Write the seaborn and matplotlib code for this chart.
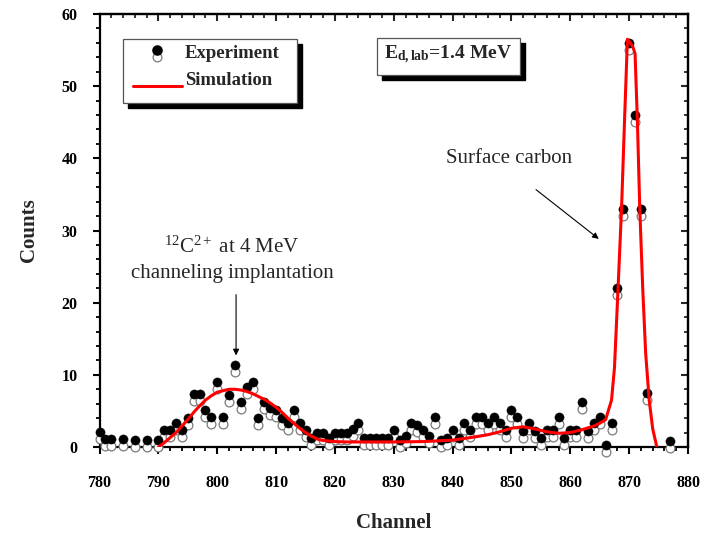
import numpy as np
import pandas as pd
import matplotlib
matplotlib.use('Agg')
import matplotlib.pyplot as plt
import seaborn as sns
from matplotlib.ticker import MultipleLocator
from matplotlib import transforms
from matplotlib.patches import Rectangle
from matplotlib.lines import Line2D

# ---------------- data ----------------
exp_channel = [780, 781, 782, 784, 786, 788, 790, 791, 792, 793, 794, 795, 796, 797,
               798, 799, 800, 801, 802, 803, 804, 805, 806, 807, 808, 809, 810, 811,
               812, 813, 814, 815, 816, 817, 818, 819, 820, 821, 822, 823, 824, 825,
               826, 827, 828, 829, 830, 831, 832, 833, 834, 835, 836, 837, 838, 839,
               840, 841, 842, 843, 844, 845, 846, 847, 848, 849, 850, 851, 852, 853,
               854, 855, 856, 857, 858, 859, 860, 861, 862, 863, 864, 865, 866, 867,
               868, 869, 870, 871, 872, 873, 877]
exp_counts = [2.1, 1.1, 1.1, 1.1, 1.0, 1.0, 1.0, 2.3, 2.3, 3.3, 2.3, 4.0, 7.4, 7.4,
              5.1, 4.2, 9.0, 4.2, 7.2, 11.3, 6.2, 8.3, 9.0, 4.0, 6.2, 5.4, 5.1, 4.0,
              3.3, 5.1, 3.3, 2.3, 1.3, 2.0, 2.0, 1.2, 2.0, 2.0, 2.0, 2.5, 3.3, 1.2,
              1.2, 1.2, 1.2, 1.2, 2.3, 1.0, 1.5, 3.3, 3.0, 2.3, 1.5, 4.2, 1.0, 1.3,
              2.3, 1.2, 3.3, 2.3, 4.2, 4.2, 3.3, 4.2, 3.3, 2.3, 5.1, 4.2, 2.2, 3.3,
              2.2, 1.2, 2.3, 2.3, 4.2, 1.2, 2.3, 2.3, 6.2, 2.2, 3.3, 4.2, 0.3, 3.3,
              22.0, 33.0, 56.0, 46.0, 33.0, 7.5, 0.8]

sim_channel = [790, 791, 792, 793, 794, 795, 796, 797, 798, 799, 800, 801, 802, 803,
               804, 805, 806, 807, 808, 809, 810, 811, 812, 813, 814, 815, 816, 817,
               818, 820, 822, 825, 830, 835, 840, 843, 846, 848, 850, 852, 854, 856,
               858, 860, 862, 864, 865, 866, 867, 867.5, 868, 868.7, 869.2, 869.7,
               870.2, 870.6, 871.0, 871.4, 871.8, 872.3, 872.8, 873.4, 874.0, 874.7]
sim_counts = [0.0, 0.6, 1.3, 2.0, 2.9, 3.8, 4.8, 5.7, 6.5, 7.1, 7.6, 7.8, 8.0, 8.0,
              7.9, 7.7, 7.4, 7.0, 6.6, 6.1, 5.5, 4.8, 4.0, 3.3, 2.6, 2.0, 1.5, 1.1,
              0.9, 0.75, 0.7, 0.7, 0.7, 0.75, 0.95, 1.3, 1.7, 2.1, 2.6, 2.8, 2.5, 2.1,
              1.9, 2.0, 2.4, 2.9, 3.3, 3.8, 6.5, 11.0, 20.0, 33.0, 45.0, 56.5,
              56.0, 55.5, 54.5, 45.0, 33.0, 22.0, 13.0, 6.5, 2.5, 0.0]

x_ticks = [780, 790, 800, 810, 820, 830, 840, 850, 860, 870, 880]
y_ticks = [0, 10, 20, 30, 40, 50, 60]

exp_df = pd.DataFrame({'Channel': exp_channel, 'Counts': exp_counts})
sim_df = pd.DataFrame({'Channel': sim_channel, 'Counts': sim_counts})

# ---------------- style ----------------
sns.set_theme(style='ticks')
plt.rcParams['font.family'] = ['Liberation Serif', 'DejaVu Serif']
plt.rcParams['mathtext.fontset'] = 'custom'
plt.rcParams['mathtext.rm'] = 'Liberation Serif'
plt.rcParams['mathtext.bf'] = 'Liberation Serif:bold'
plt.rcParams['mathtext.it'] = 'Liberation Serif:italic'

fig = plt.figure(figsize=(7.11, 5.37), dpi=100)
ax = fig.add_axes([0.14, 0.1676, 0.8277, 0.8063])

off = transforms.offset_copy(ax.transData, fig=fig, x=0, y=-5, units='points')
sns.scatterplot(data=exp_df, x='Channel', y='Counts', ax=ax, marker='o', s=40,
                color='white', edgecolor='#7a7a7a', linewidth=0.9, transform=off,
                clip_on=False, zorder=3, legend=False)
sns.scatterplot(data=exp_df, x='Channel', y='Counts', ax=ax, marker='o', s=44,
                color='black', edgecolor='black', linewidth=0.3, clip_on=False,
                zorder=4, legend=False)
sns.lineplot(data=sim_df, x='Channel', y='Counts', ax=ax, color='#ff0000', lw=2.2,
             zorder=5, legend=False)

ax.set_xlim(780, 880)
ax.set_ylim(0, 60)
ax.set_xticks(x_ticks)
ax.set_yticks(y_ticks)
ax.xaxis.set_minor_locator(MultipleLocator(2))
ax.yaxis.set_minor_locator(MultipleLocator(2))
ax.tick_params(which='major', direction='out', length=5, width=1.5, labelsize=11.5,
               color='black', labelcolor='black')
ax.tick_params(which='minor', direction='out', length=3, width=1.3, color='black')
ax.tick_params(axis='x', which='major', pad=15)
ax.tick_params(axis='y', which='major', pad=11)
for lab in ax.get_xticklabels() + ax.get_yticklabels():
    lab.set_fontweight('bold')
for sp in ax.spines.values():
    sp.set_visible(True)
    sp.set_linewidth(1.6)
    sp.set_color('black')

top = ax.secondary_xaxis('top')
top.set_xticks(x_ticks)
top.xaxis.set_minor_locator(MultipleLocator(2))
top.tick_params(which='major', direction='in', length=5, width=1.5, labeltop=False)
top.tick_params(which='minor', direction='in', length=3, width=1.3)
top.spines['top'].set_linewidth(1.6)
right = ax.secondary_yaxis('right')
right.set_yticks(y_ticks)
right.yaxis.set_minor_locator(MultipleLocator(2))
right.tick_params(which='major', direction='in', length=5, width=1.5, labelright=False)
right.tick_params(which='minor', direction='in', length=3, width=1.3)
right.spines['right'].set_linewidth(1.6)

ax.set_xlabel('Channel', fontsize=15, fontweight='bold', labelpad=16)
ax.set_ylabel('Counts', fontsize=15, fontweight='bold', labelpad=16)

# ---------------- legend box (manual, with shadow) ----------------
def shadow_box(x0, y0, x1, y1, dx=0.0085, dy=0.0115):
    ax.add_patch(Rectangle((x0 + dx, y0 - dy), x1 - x0, y1 - y0, transform=ax.transAxes,
                           facecolor='black', edgecolor='black', zorder=7, clip_on=False))
    ax.add_patch(Rectangle((x0, y0), x1 - x0, y1 - y0, transform=ax.transAxes,
                           facecolor='white', edgecolor='#555555', lw=0.9, zorder=8,
                           clip_on=False))

shadow_box(0.040, 0.794, 0.336, 0.942)
ax.add_line(Line2D([0.098], [0.900], transform=ax.transAxes, marker='o', ms=6.3,
                   mfc='white', mec='#7a7a7a', mew=0.9, ls='none', zorder=9))
ax.add_line(Line2D([0.098], [0.916], transform=ax.transAxes, marker='o', ms=6.6,
                   mfc='black', mec='black', ls='none', zorder=10))
ax.add_line(Line2D([0.057, 0.140], [0.834, 0.834], transform=ax.transAxes,
                   color='#ff0000', lw=2.2, zorder=9))
ax.text(0.145, 0.908, 'Experiment', transform=ax.transAxes, fontsize=13.5,
        fontweight='bold', va='center', ha='left', zorder=11)
ax.text(0.145, 0.846, 'Simulation', transform=ax.transAxes, fontsize=13.5,
        fontweight='bold', va='center', ha='left', zorder=11)

shadow_box(0.471, 0.859, 0.715, 0.945)
ax.text(0.593, 0.905, r'$\mathbf{E_{d,lab}}$=1.4 MeV', transform=ax.transAxes,
        fontsize=14, fontweight='bold', va='center', ha='center', zorder=11)

# ---------------- annotations ----------------
ax.text(802.5, 27.7, r'$^{12}$C$^{2+}$ at 4 MeV', fontsize=15, ha='center', va='center')
ax.text(802.5, 24.0, 'channeling implantation', fontsize=15, ha='center', va='center')
ax.annotate('', xy=(803.2, 12.3), xytext=(803.2, 21.5),
            arrowprops=dict(arrowstyle='-|>', lw=0.8, color='black', mutation_scale=9))
ax.text(849.6, 40.0, 'Surface carbon', fontsize=15, ha='center', va='center')
ax.annotate('', xy=(865.2, 28.6), xytext=(853.8, 35.9),
            arrowprops=dict(arrowstyle='-|>', lw=0.8, color='black', mutation_scale=9))

fig.savefig('out.png', dpi=100)
